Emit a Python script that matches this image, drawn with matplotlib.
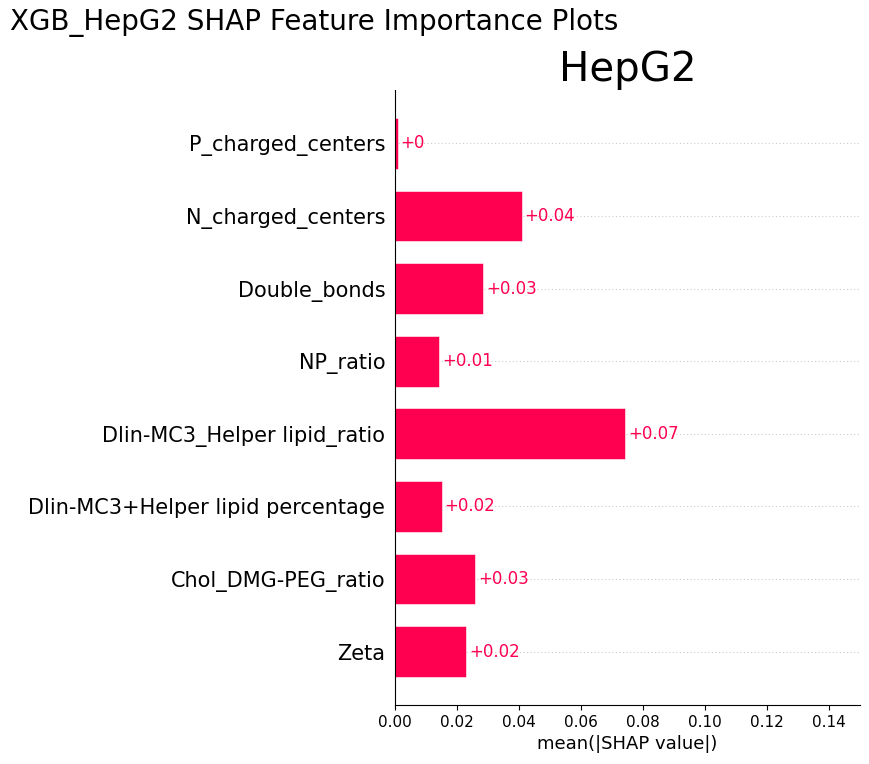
import numpy as np
import matplotlib
matplotlib.use('Agg')
import matplotlib.pyplot as plt

# Data (mean |SHAP| per feature, top to bottom as shown)
features = ['P_charged_centers', 'N_charged_centers', 'Double_bonds', 'NP_ratio',
            'Dlin-MC3_Helper lipid_ratio', 'Dlin-MC3+Helper lipid percentage',
            'Chol_DMG-PEG_ratio', 'Zeta']
shap_vals = [0.0008, 0.0408, 0.0285, 0.0143, 0.0743, 0.0152, 0.0259, 0.0230]

red = '#ff0051'

fig = plt.figure(figsize=(8.69, 7.64), dpi=100)
ax = fig.add_axes([0.4546, 0.0772, 0.535, 0.805])

n = len(features)
y_pos = np.arange(n)[::-1]
ax.barh(y_pos, shap_vals, height=0.7, color=red, edgecolor=(1, 1, 1, 0.8), linewidth=0.5)

for y, v in zip(y_pos, shap_vals):
    ax.axhline(y, color='#cccccc', lw=0.8, dashes=(1, 2.2), zorder=-1)
    ax.text(v + 0.0008, y, '+' + format(round(v, 2), 'g'), color=red,
            fontsize=12, va='center', ha='left')

ax.set_yticks(y_pos)
ax.set_yticklabels(features, fontsize=15)
ax.set_xlim(0, 0.15)
ax.set_xlabel('mean(|SHAP value|)', fontsize=13)
ax.tick_params(axis='x', labelsize=11)
ax.tick_params(axis='y', length=0, pad=7)
ax.spines['right'].set_visible(False)
ax.spines['top'].set_visible(False)
ax.set_title('HepG2', fontsize=29, pad=5)

fig.text(0.012, 0.99, 'XGB_HepG2 SHAP Feature Importance Plots', fontsize=20,
         ha='left', va='top')

fig.savefig('out.png', dpi=100)
